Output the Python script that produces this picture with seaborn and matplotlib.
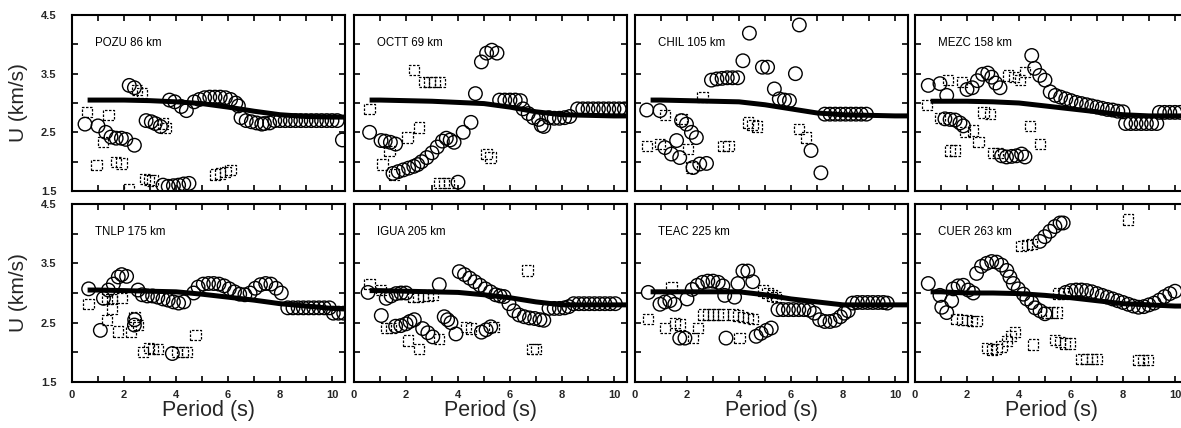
import numpy as np
import pandas as pd
import matplotlib
matplotlib.use("Agg")
import matplotlib.pyplot as plt
import seaborn as sns

# ---------------- data ----------------
stations = ["POZU 86 km", "OCTT 69 km", "CHIL 105 km", "MEZC 158 km",
            "TNLP 175 km", "IGUA 205 km", "TEAC 225 km", "CUER 263 km"]

line_T = [0.6, 1, 2, 3, 4, 5, 6, 7, 8, 9, 10, 10.5]
line_U = [
    [3.05, 3.05, 3.05, 3.04, 3.02, 2.99, 2.93, 2.86, 2.80, 2.77, 2.76, 2.76],
    [3.05, 3.05, 3.04, 3.03, 3.01, 2.99, 2.93, 2.85, 2.80, 2.79, 2.78, 2.78],
    [3.05, 3.05, 3.04, 3.03, 3.02, 2.97, 2.90, 2.83, 2.80, 2.79, 2.78, 2.78],
    [3.03, 3.03, 3.03, 3.02, 3.00, 2.95, 2.90, 2.85, 2.80, 2.78, 2.78, 2.78],
    [3.05, 3.05, 3.04, 3.03, 3.02, 2.98, 2.93, 2.88, 2.82, 2.78, 2.74, 2.73],
    [3.04, 3.04, 3.03, 3.02, 3.01, 2.97, 2.92, 2.85, 2.80, 2.80, 2.80, 2.80],
    [3.02, 3.02, 3.02, 3.02, 3.02, 2.97, 2.90, 2.85, 2.80, 2.80, 2.80, 2.80],
    [3.02, 3.02, 3.00, 3.00, 2.99, 2.96, 2.92, 2.87, 2.82, 2.80, 2.78, 2.78],
]

# circles (fundamental mode picks)
POZU_circ_T = [0.5, 1.0, 1.3, 1.5, 1.7, 1.9, 2.07, 2.4, 2.2, 2.4, 2.85, 3.05, 3.2, 3.4,
               3.5, 3.7, 3.9, 4.1, 4.3, 4.5, 3.75, 3.95, 4.2, 4.4, 4.7, 4.9, 5.1, 5.3,
               5.5, 5.7, 5.9, 6.1, 6.3, 6.4, 6.5, 6.7, 6.9, 7.1, 7.3, 7.4, 7.6, 7.8,
               8.0, 8.2, 8.4, 8.6, 8.8, 9.0, 9.2, 9.4, 9.6, 9.8, 10.0, 10.2, 10.4]
POZU_circ_U = [2.64, 2.61, 2.5, 2.42, 2.4, 2.4, 2.38, 2.28, 3.3, 3.26, 2.7, 2.68, 2.65, 2.6,
               1.6, 1.58, 1.59, 1.6, 1.62, 1.63, 3.05, 3.02, 2.94, 2.87, 3.02, 3.06, 3.09, 3.1,
               3.1, 3.1, 3.09, 3.06, 3.0, 2.95, 2.75, 2.7, 2.68, 2.66, 2.64, 2.65, 2.66, 2.7,
               2.7, 2.7, 2.7, 2.7, 2.7, 2.7, 2.7, 2.7, 2.7, 2.7, 2.7, 2.7, 2.37]
POZU_sq_T = [0.58, 0.94, 1.2, 1.4, 1.7, 1.9, 2.2, 2.5, 2.7, 2.8, 2.95, 3.1, 3.5, 3.6,
             5.5, 5.7, 5.9, 6.1]
POZU_sq_U = [2.85, 1.94, 2.34, 2.8, 2.0, 1.97, 1.53, 3.22, 3.17, 1.7, 1.69, 1.68, 2.65, 2.57,
             1.78, 1.8, 1.82, 1.86]

OCTT_circ_T = [0.6, 1.04, 1.2, 1.4, 1.6, 1.5, 1.7, 1.9, 2.1, 2.3, 2.45, 2.6, 2.8, 3.0,
               3.2, 3.4, 3.55, 3.7, 3.85, 4.2, 4.5, 4.0, 4.67, 4.9, 5.1, 5.3, 5.5,
               5.6, 5.8, 6.0, 6.2, 6.4, 6.5, 6.7, 6.9, 7.1, 7.2, 7.3, 7.5, 7.7,
               7.9, 8.1, 8.3, 8.6, 8.8, 9.0, 9.2, 9.4, 9.6, 9.8, 10.0, 10.2, 10.4]
OCTT_circ_U = [2.5, 2.36, 2.35, 2.33, 2.3, 1.8, 1.83, 1.86, 1.89, 1.92, 1.95, 2.0, 2.07, 2.15,
               2.25, 2.35, 2.4, 2.37, 2.33, 2.5, 2.67, 1.65, 3.16, 3.7, 3.85, 3.9, 3.85,
               3.05, 3.05, 3.05, 3.05, 3.04, 2.9, 2.82, 2.75, 2.72, 2.62, 2.6, 2.75, 2.74,
               2.74, 2.75, 2.77, 2.9, 2.9, 2.9, 2.9, 2.9, 2.9, 2.9, 2.9, 2.9, 2.9]
OCTT_sq_T = [0.6, 1.1, 1.36, 1.55, 2.06, 2.5, 2.3, 2.7, 2.9, 3.1, 3.3, 3.27, 3.45, 3.65,
             5.1, 5.25]
OCTT_sq_U = [2.9, 1.95, 2.18, 1.78, 2.41, 2.58, 3.56, 3.36, 3.36, 3.36, 3.36, 1.64, 1.64, 1.64,
             2.13, 2.07]

CHIL_circ_T = [0.45, 0.96, 1.15, 1.4, 1.6, 1.72, 1.79, 1.98, 2.17, 2.36, 2.23, 2.49, 2.75,
               2.94, 3.15, 3.35, 3.55, 3.75, 3.95, 4.15, 4.4, 4.9, 5.1, 5.36, 5.55, 5.75,
               5.94, 6.17, 6.32, 6.77, 7.15, 7.3, 7.5, 7.7, 7.9, 8.1, 8.3, 8.5, 8.7, 8.9]
CHIL_circ_U = [2.88, 2.87, 2.24, 2.13, 2.36, 2.07, 2.7, 2.64, 2.5, 2.41, 1.9, 1.96, 1.97,
               3.39, 3.41, 3.42, 3.43, 3.43, 3.43, 3.72, 4.19, 3.61, 3.61, 3.24, 3.07, 3.05,
               3.04, 3.5, 4.33, 2.19, 1.81, 2.81, 2.81, 2.81, 2.81, 2.81, 2.81, 2.81, 2.81, 2.81]
CHIL_sq_T = [0.45, 0.96, 1.15, 1.79, 2.04, 2.17, 2.6, 3.4, 3.6, 4.34, 4.52, 4.7, 6.32, 6.58]
CHIL_sq_U = [2.27, 2.3, 2.79, 2.73, 2.21, 1.9, 3.1, 2.27, 2.27, 2.67, 2.63, 2.6, 2.56, 2.41]

MEZC_circ_T = [0.51, 0.96, 1.22, 1.15, 1.35, 1.54, 1.73, 1.86, 2.0, 2.2, 2.4, 2.6, 2.8,
               2.95, 3.1, 3.27, 3.33, 3.52, 3.72, 3.9, 4.1, 4.23, 4.49, 4.6, 4.8, 5.0,
               5.2, 5.4, 5.6, 5.8, 6.0, 6.2, 6.4, 6.6, 6.8, 7.0, 7.2, 7.4, 7.6, 7.8, 8.0,
               8.1, 8.3, 8.5, 8.7, 8.9, 9.1, 9.3, 9.4, 9.6, 9.8, 10.0, 10.2]
MEZC_circ_U = [3.3, 3.33, 3.13, 2.73, 2.72, 2.71, 2.66, 2.61, 3.23, 3.26, 3.38, 3.49, 3.51,
               3.44, 3.34, 3.26, 2.1, 2.08, 2.09, 2.1, 2.13, 2.08, 3.81, 3.59, 3.47, 3.39,
               3.19, 3.13, 3.1, 3.07, 3.04, 3.01, 2.99, 2.97, 2.95, 2.93, 2.91, 2.89, 2.88, 2.86, 2.85,
               2.65, 2.65, 2.65, 2.65, 2.65, 2.65, 2.65, 2.84, 2.84, 2.84, 2.84, 2.84]
MEZC_sq_T = [0.45, 0.96, 1.28, 1.8, 1.92, 2.24, 1.35, 1.54, 2.44, 2.63, 2.88, 3.0, 3.2,
             3.59, 3.8, 4.04, 4.23, 4.42, 4.81]
MEZC_sq_U = [2.96, 2.75, 3.39, 3.36, 2.5, 2.53, 2.19, 2.19, 2.33, 2.84, 2.81, 2.15, 2.15,
             3.47, 3.44, 3.39, 3.53, 2.61, 2.3]

TNLP_circ_T = [0.64, 1.09, 1.21, 1.4, 1.59, 1.78, 1.91, 2.1, 2.41, 2.4, 2.54, 2.7, 2.9, 3.1,
               3.3, 3.5, 3.7, 3.9, 4.1, 4.3, 3.86, 4.68, 4.85, 5.05, 5.25, 5.45, 5.65,
               5.85, 6.05, 6.25, 6.45, 6.65, 6.85, 7.05, 7.25, 7.45, 7.65, 7.85, 8.05,
               8.3, 8.5, 8.7, 8.9, 9.1, 9.3, 9.5, 9.7, 9.9, 10.05, 10.25, 10.45]
TNLP_circ_U = [3.07, 2.37, 2.91, 3.05, 3.15, 3.27, 3.31, 3.28, 2.55, 2.46, 3.05, 2.97, 2.95,
               2.95, 2.93, 2.9, 2.88, 2.85, 2.83, 2.85, 1.98, 3.0, 3.1, 3.15, 3.16, 3.16,
               3.15, 3.12, 3.07, 3.02, 2.98, 2.97, 3.0, 3.08, 3.14, 3.16, 3.15, 3.08, 3.0,
               2.75, 2.75, 2.75, 2.75, 2.75, 2.75, 2.75, 2.75, 2.75, 2.66, 2.66, 2.66]
TNLP_sq_T = [0.64, 1.34, 1.53, 1.34, 1.53, 1.78, 1.91, 2.28, 2.4, 2.54, 2.73, 2.95, 3.12,
             3.3, 4.05, 4.25, 4.43, 4.75]
TNLP_sq_U = [2.82, 2.9, 2.9, 2.54, 2.74, 2.35, 2.91, 2.35, 2.6, 2.46, 2.0, 2.07, 2.06,
             2.06, 2.0, 2.0, 2.0, 2.29]

IGUA_circ_T = [0.54, 1.05, 1.24, 1.43, 1.62, 1.81, 2.0, 1.6, 1.8, 2.0, 2.15, 2.32, 2.64,
               2.84, 3.03, 3.28, 3.47, 3.6, 3.73, 3.92, 4.05, 4.25, 4.45, 4.65, 4.85,
               5.05, 5.25, 5.45, 5.62, 5.77, 4.9, 5.08, 5.26, 5.96, 6.15, 6.35, 6.55,
               6.75, 6.95, 7.15, 7.3, 7.5, 7.7, 7.9, 8.1, 8.26, 8.45, 8.65, 8.85, 9.05,
               9.25, 9.45, 9.65, 9.85, 10.05]
IGUA_circ_U = [3.01, 2.62, 2.91, 2.95, 2.99, 3.0, 3.0, 2.44, 2.45, 2.48, 2.52, 2.55, 2.4,
               2.33, 2.26, 3.14, 2.6, 2.55, 2.5, 2.31, 3.36, 3.31, 3.25, 3.19, 3.13,
               3.07, 3.02, 2.97, 2.95, 2.94, 2.34, 2.38, 2.43, 2.82, 2.7, 2.63, 2.6,
               2.58, 2.57, 2.55, 2.54, 2.74, 2.74, 2.74, 2.75, 2.77, 2.82, 2.82, 2.82, 2.82,
               2.82, 2.82, 2.82, 2.82, 2.82]
IGUA_sq_T = [0.6, 1.05, 1.24, 1.43, 2.07, 2.5, 2.26, 2.45, 2.65, 2.85, 3.03, 3.28, 4.3,
             4.5, 5.39, 6.67, 6.86, 6.99]
IGUA_sq_U = [3.15, 3.05, 2.41, 2.41, 2.2, 2.06, 2.94, 2.94, 2.95, 2.96, 2.97, 2.23, 2.43,
             2.4, 2.43, 3.38, 2.06, 2.06]

TEAC_circ_T = [0.51, 0.96, 1.15, 1.34, 1.53, 1.72, 1.92, 2.0, 2.2, 2.4, 2.6, 2.8, 3.0,
               3.2, 3.38, 3.45, 3.83, 3.5, 3.96, 4.15, 4.34, 4.53, 4.66, 4.85, 5.05, 5.24,
               5.5, 5.7, 5.9, 6.1, 6.3, 6.5, 6.7, 6.9, 7.1, 7.3, 7.5, 7.7, 7.9, 8.05,
               8.2, 8.37, 8.55, 8.75, 8.95, 9.15, 9.35, 9.55, 9.7]
TEAC_circ_U = [3.01, 2.81, 2.85, 2.87, 2.81, 2.24, 2.24, 2.9, 3.06, 3.13, 3.18, 3.2, 3.2,
               3.18, 3.12, 2.96, 2.93, 2.24, 3.16, 3.37, 3.37, 3.19, 2.27, 2.32, 2.37, 2.41,
               2.72, 2.72, 2.72, 2.72, 2.72, 2.72, 2.71, 2.66, 2.55, 2.52, 2.52, 2.54, 2.6,
               2.66, 2.7, 2.83, 2.84, 2.84, 2.84, 2.84, 2.84, 2.84, 2.83]
TEAC_sq_T = [0.51, 1.15, 1.4, 1.53, 1.72, 2.23, 2.43, 2.62, 2.8, 3.0, 3.2, 3.38, 3.77,
             3.96, 4.15, 4.34, 4.53, 4.02, 4.92, 5.1, 5.28, 5.43]
TEAC_sq_U = [2.56, 2.41, 3.1, 2.5, 2.47, 2.24, 2.41, 2.64, 2.64, 2.64, 2.64, 2.64, 2.64,
             2.62, 2.6, 2.58, 2.56, 2.24, 3.04, 3.0, 2.96, 2.93]

CUER_circ_T = [0.51, 0.96, 1.03, 1.22, 1.41, 1.47, 1.66, 1.86, 2.05, 2.24, 2.37, 2.56,
               2.76, 2.95, 3.14, 3.33, 3.53, 3.65, 3.78, 3.97, 4.17, 4.3, 4.49, 4.62, 4.81,
               5.0, 4.8, 4.99, 5.19, 5.38, 5.58, 5.7, 5.8, 6.0, 6.2, 6.4, 6.6, 6.8, 7.0,
               7.2, 7.4, 7.6, 7.8, 8.0, 8.2, 8.4, 8.6, 8.8, 9.0, 9.2, 9.4, 9.6, 9.8, 10.0]
CUER_circ_U = [3.16, 2.96, 2.76, 2.67, 2.87, 3.07, 3.12, 3.13, 3.05, 3.0, 3.33, 3.45,
               3.5, 3.53, 3.52, 3.47, 3.38, 3.27, 3.16, 3.07, 2.98, 2.9, 2.84, 2.75, 2.7,
               2.65, 3.87, 3.95, 4.04, 4.12, 4.18, 4.18, 3.01, 3.04, 3.05, 3.05, 3.04, 3.02, 2.99,
               2.96, 2.93, 2.9, 2.87, 2.84, 2.81, 2.78, 2.76, 2.77, 2.8, 2.83, 2.88, 2.94, 2.99, 3.03]
CUER_sq_T = [1.6, 1.8, 2.0, 2.2, 2.37, 2.76, 2.95, 3.14, 3.33, 3.53, 3.7, 3.85, 4.1, 4.3,
             4.49, 4.55, 5.06, 5.25, 5.45, 5.38, 5.58, 5.77, 5.96, 5.5, 5.7, 6.4, 6.6,
             6.8, 6.99, 8.2, 8.6, 8.78, 8.97]
CUER_sq_U = [2.56, 2.55, 2.54, 2.53, 2.53, 2.07, 2.05, 2.06, 2.1, 2.19, 2.28, 2.34, 3.79, 3.81,
             3.83, 2.13, 2.67, 2.67, 2.67, 2.21, 2.18, 2.15, 2.15, 2.99, 2.99, 1.89, 1.89,
             1.89, 1.89, 4.24, 1.87, 1.87, 1.87]

circ_T = [POZU_circ_T, OCTT_circ_T, CHIL_circ_T, MEZC_circ_T,
          TNLP_circ_T, IGUA_circ_T, TEAC_circ_T, CUER_circ_T]
circ_U = [POZU_circ_U, OCTT_circ_U, CHIL_circ_U, MEZC_circ_U,
          TNLP_circ_U, IGUA_circ_U, TEAC_circ_U, CUER_circ_U]
sq_T = [POZU_sq_T, OCTT_sq_T, CHIL_sq_T, MEZC_sq_T,
        TNLP_sq_T, IGUA_sq_T, TEAC_sq_T, CUER_sq_T]
sq_U = [POZU_sq_U, OCTT_sq_U, CHIL_sq_U, MEZC_sq_U,
        TNLP_sq_U, IGUA_sq_U, TEAC_sq_U, CUER_sq_U]

xticks = [0, 2, 4, 6, 8, 10]
yticks = [1.5, 2.5, 3.5, 4.5]

# ---------------- figure ----------------
sns.set_theme(style="ticks")
plt.rcParams["font.family"] = ["Liberation Sans", "DejaVu Sans"]

W, H = 1181, 428
fig = plt.figure(figsize=(W / 100, H / 100), dpi=100)

lefts = [72, 354, 635, 915]
width = 273
rows = [(15, 191), (204, 382)]

for i in range(8):
    r, c = divmod(i, 4)
    top, bot = rows[r]
    ax = fig.add_axes([lefts[c] / W, 1 - bot / H, width / W, (bot - top) / H])

    ldf = pd.DataFrame({"T": line_T, "U": line_U[i]})
    sns.lineplot(data=ldf, x="T", y="U", ax=ax, color="black", linewidth=3.6,
                 zorder=2, solid_capstyle="butt")

    sdf = pd.DataFrame({"T": sq_T[i], "U": sq_U[i]})
    sns.scatterplot(data=sdf, x="T", y="U", ax=ax, marker="s", s=55,
                    facecolors="none", edgecolor="black", linewidth=0.9,
                    linestyle=(0, (2, 1.2)), zorder=3)

    cdf = pd.DataFrame({"T": circ_T[i], "U": circ_U[i]})
    sns.scatterplot(data=cdf, x="T", y="U", ax=ax, marker="o", s=95,
                    facecolors="none", edgecolor="black", linewidth=1.0,
                    zorder=4)

    ax.set_xlim(0, 10.5)
    ax.set_ylim(1.5, 4.5)
    ax.set_xticks(xticks)
    ax.set_xticks([1, 3, 5, 7, 9], minor=True)
    ax.set_yticks(yticks)
    ax.set_yticks([2.0, 3.0, 4.0], minor=True)
    ax.tick_params(axis="both", which="both", direction="in", top=True, right=True,
                   length=4, width=1.2, color="black")
    ax.tick_params(axis="y", pad=11)
    ax.tick_params(axis="x", pad=6)
    for sp in ax.spines.values():
        sp.set_linewidth(1.5)
        sp.set_color("black")

    if c == 0:
        ax.set_yticklabels([f"{v:.1f}" for v in yticks], fontsize=8, fontweight="bold")
        ax.set_ylabel("U (km/s)", fontsize=15)
        ax.yaxis.set_label_coords(-0.16, 0.5)
    else:
        ax.set_yticklabels([])
        ax.set_ylabel("")
    if r == 1:
        ax.set_xticklabels([str(v) for v in xticks], fontsize=8, fontweight="bold")
        ax.set_xlabel("Period (s)", fontsize=15.5)
        ax.xaxis.set_label_coords(0.5, -0.10)
    else:
        ax.set_xticklabels([])
        ax.set_xlabel("")

    ax.text(0.084, 0.84, stations[i], transform=ax.transAxes, fontsize=8.3,
            ha="left", va="center", color="black")

fig.savefig("out.png", dpi=100)
